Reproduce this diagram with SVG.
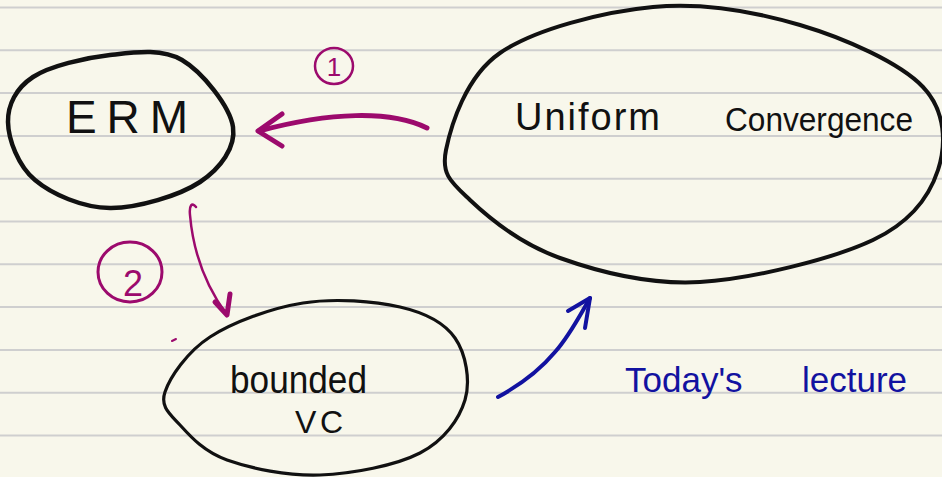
<svg xmlns="http://www.w3.org/2000/svg" width="942" height="477" viewBox="0 0 942 477">
<style>
.rule{stroke:#cfcfcf;stroke-width:2}
.node{fill:none;stroke:#111;stroke-linejoin:round;stroke-linecap:round}
.lbl{font-family:"Liberation Sans",Arial,sans-serif;fill:#111}
.mag{fill:none;stroke:#9c0a6d;stroke-linecap:round;stroke-linejoin:round}
.blue{fill:none;stroke:#1212a0;stroke-linecap:round;stroke-linejoin:round}
.mtxt{font-family:"Liberation Sans",Arial,sans-serif;fill:#9c0a6d}
.btxt{font-family:"Liberation Sans",Arial,sans-serif;fill:#1212a0}
</style>
<rect width="942" height="477" fill="#f8f7eb"/>
<g id="paper">
<line class="rule" x1="0" y1="7.5" x2="942" y2="7.5"/>
<line class="rule" x1="0" y1="50.3" x2="942" y2="50.3"/>
<line class="rule" x1="0" y1="93.1" x2="942" y2="93.1"/>
<line class="rule" x1="0" y1="135.9" x2="942" y2="135.9"/>
<line class="rule" x1="0" y1="178.7" x2="942" y2="178.7"/>
<line class="rule" x1="0" y1="221.5" x2="942" y2="221.5"/>
<line class="rule" x1="0" y1="264.3" x2="942" y2="264.3"/>
<line class="rule" x1="0" y1="307.1" x2="942" y2="307.1"/>
<line class="rule" x1="0" y1="349.9" x2="942" y2="349.9"/>
<line class="rule" x1="0" y1="392.7" x2="942" y2="392.7"/>
<line class="rule" x1="0" y1="435.5" x2="942" y2="435.5"/>
</g>
<g id="erm">
<path class="node" stroke-width="4.5" d="M 8,122 C 7.7,104.8 16,88.2 33,77 C 50,65.8 85.2,57.8 110,55 C 134.8,52.2 161.5,48 182,60 C 202.5,72 230,106.7 233,127 C 236,147.3 220.5,168.5 200,182 C 179.5,195.5 137.5,208.3 110,208 C 82.5,207.7 52,194.3 35,180 C 18,165.7 8.3,139.2 8,122 Z"/>
<text class="lbl" x="66" y="133" font-size="46" textLength="122" lengthAdjust="spacing">ERM</text>
</g>
<g id="uniform-convergence">
<path class="node" stroke-width="4" d="M 446,150 C 451,125.5 465.5,76.8 500,53 C 534.5,29.2 603,11.7 653,7 C 703,2.3 755,11.7 800,25 C 845,38.3 900,62.8 923,87 C 946,111.2 946.3,144.5 938,170 C 929.7,195.5 912.7,221.3 873,240 C 833.3,258.7 752.2,279 700,282 C 647.8,285 598.3,271.7 560,258 C 521.7,244.3 489,218 470,200 C 451,182 441,174.5 446,150 Z"/>
<text class="lbl" x="515" y="130" font-size="38" textLength="145" lengthAdjust="spacing">Uniform</text>
<text class="lbl" x="725" y="131" font-size="34" textLength="188" lengthAdjust="spacingAndGlyphs">Convergence</text>
</g>
<g id="bounded-vc">
<path class="node" stroke-width="3.2" d="M 165,392 C 170,377.3 187,351.8 210,337 C 233,322.2 271.3,308 303,303 C 334.7,298 374.7,301.2 400,307 C 425.3,312.8 444.2,322.5 455,338 C 465.8,353.5 470.8,380.8 465,400 C 459.2,419.2 444.2,440.5 420,453 C 395.8,465.5 352.2,473.8 320,475 C 287.8,476.2 250.3,468.3 227,460 C 203.7,451.7 190.3,436.3 180,425 C 169.7,413.7 160,406.7 165,392 Z"/>
<text class="lbl" x="230" y="393" font-size="38" textLength="137" lengthAdjust="spacingAndGlyphs">bounded</text>
<text class="lbl" x="295" y="433" font-size="32" textLength="48" lengthAdjust="spacing">VC</text>
</g>
<g id="connectors">
<path class="mag" stroke-width="5" d="M 427,128 C 390,110 330,112 259,131"/>
<path class="mag" stroke-width="5" d="M 282,114 L 258,131 L 282,146"/>
<ellipse class="mag" stroke-width="2.5" cx="334" cy="66" rx="19" ry="18"/>
<text class="mtxt" x="334" y="76" font-size="26" text-anchor="middle">1</text>
<path class="mag" stroke-width="2.5" d="M 196,207 C 192,202 189,205 190,215 C 193,250 205,285 227,315"/>
<path class="mag" stroke-width="5" d="M 215,302 L 227,315 L 230,294"/>
<ellipse class="mag" stroke-width="3" cx="130" cy="272" rx="32" ry="30"/>
<text class="mtxt" x="133" y="296" font-size="36" text-anchor="middle">2</text>
<path class="mag" stroke-width="2" d="M 172,341 L 176,339"/>
<path class="blue" stroke-width="4" d="M 498,397 C 520,385 540,370 555,352 C 570,335 580,315 590,298"/>
<path class="blue" stroke-width="4" d="M 568,311 L 590,298 L 585,328"/>
<text class="btxt" font-size="35" y="392"><tspan x="625">Today's</tspan><tspan x="802">lecture</tspan></text>
</g>
</svg>
